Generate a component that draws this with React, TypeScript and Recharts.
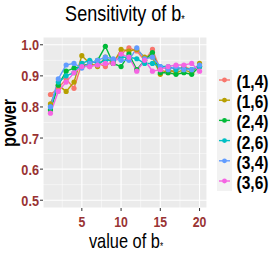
import { LineChart, Line, XAxis, YAxis, CartesianGrid, ReferenceLine } from "recharts";

const bValues = [1,2,3,4,5,6,7,8,9,10,11,12,13,14,15,16,17,18,19,20];
const s14 = [0.84,0.86,0.89,0.86,0.94,0.93,0.94,0.93,0.95,0.97,0.99,0.98,0.95,0.985,0.92,0.91,0.92,0.93,0.92,0.93];
const s16 = [0.81,0.87,0.85,0.88,0.965,0.94,0.93,0.96,0.94,0.985,0.98,0.985,0.96,0.96,0.905,0.92,0.91,0.92,0.91,0.94];
const s24 = [0.79,0.87,0.915,0.925,0.93,0.94,0.95,0.995,0.94,0.93,0.97,0.92,0.95,0.975,0.91,0.91,0.905,0.91,0.905,0.93];
const s26 = [0.80,0.88,0.90,0.91,0.94,0.95,0.94,0.95,0.95,0.96,0.96,0.955,0.94,0.94,0.93,0.93,0.92,0.925,0.92,0.93];
const s34 = [0.80,0.89,0.935,0.94,0.925,0.94,0.95,0.96,0.955,0.95,0.95,0.99,0.955,0.96,0.93,0.92,0.93,0.92,0.92,0.935];
const s36 = [0.78,0.85,0.88,0.91,0.93,0.93,0.935,0.94,0.94,0.97,0.96,0.915,0.95,0.915,0.92,0.93,0.935,0.935,0.94,0.915];

const seriesNames = ["(1,4)","(1,6)","(2,4)","(2,6)","(3,4)","(3,6)"];
const seriesVals = [s14,s16,s24,s26,s34,s36];
const colors = ["#F8766D","#B79F00","#00BA38","#00BFC4","#619CFF","#F564E3"];

const xTicks = [5,10,15,20];
const yTicks = [0.5,0.6,0.7,0.8,0.9,1.0];
const xMinor = [2.5,7.5,12.5,17.5];
const yMinor = [0.55,0.65,0.75,0.85,0.95];

const rows = bValues.map((b,i)=>{
  const r: any = { b };
  seriesNames.forEach((n,k)=>{ r[n]=seriesVals[k][i]; });
  return r;
});

const font = '"Liberation Sans", Arial, sans-serif';
const SX = 0.82; // the reference text is a narrow face

const YTick = (p: any) => (
  <g transform={`translate(${p.x},${p.y}) scale(${SX},1)`}>
    <text textAnchor="end" dominantBaseline="central" fill="#993333" fontWeight={700} fontSize={15.5} fontFamily={font}>
      {Number(p.payload.value).toFixed(1)}
    </text>
  </g>
);
const XTick = (p: any) => (
  <g transform={`translate(${p.x},${p.y}) scale(${SX},1)`}>
    <text textAnchor="middle" dy="0.71em" fill="#993333" fontWeight={700} fontSize={15} fontFamily={font}>
      {p.payload.value}
    </text>
  </g>
);

export default function App(){
  return (
    <div style={{position:"absolute",left:0,top:0,width:278,height:262,background:"#fff"}}>
      <LineChart width={278} height={262} data={rows} margin={{top:37,right:71,bottom:0,left:0}}>
        <CartesianGrid fill="#EBEBEB" stroke="#FFFFFF" strokeWidth={1.1}/>
        {xMinor.map(v=><ReferenceLine key={"x"+v} x={v} stroke="#FFFFFF" strokeWidth={0.5}/>)}
        {yMinor.map(v=><ReferenceLine key={"y"+v} y={v} stroke="#FFFFFF" strokeWidth={0.5}/>)}
        <XAxis dataKey="b" type="number" domain={[0.05,20.95]} ticks={xTicks} height={54}
          axisLine={false} tickSize={3} tickMargin={5} tickLine={{stroke:"#333"}} tick={<XTick/>}/>
        <YAxis type="number" domain={[0.475,1.025]} ticks={yTicks} width={43}
          axisLine={false} tickSize={3} tickMargin={1} tickLine={{stroke:"#333"}} tick={<YTick/>}/>
        {seriesNames.map((n,k)=>(
          <Line key={n} dataKey={n} stroke={colors[k]} strokeWidth={1.4}
            dot={{r:2.6,fill:colors[k],stroke:colors[k],strokeWidth:0}} isAnimationActive={false}/>
        ))}
      </LineChart>
      <svg width={278} height={262} style={{position:"absolute",left:0,top:0,pointerEvents:"none"}} fontFamily={font}>
        <text transform={`translate(125,21) scale(${SX},1)`} textAnchor="middle" fontSize={22} fill="#000">
          Sensitivity of b<tspan fontSize={11} dy={2}>*</tspan>
        </text>
        <text transform={`translate(126,248) scale(${SX},1)`} textAnchor="middle" fontSize={20} fill="#000">
          value of b<tspan fontSize={10} dy={2}>*</tspan>
        </text>
        <text transform={`translate(15.5,123) rotate(-90) scale(${SX},1)`} textAnchor="middle" fontSize={20} fontWeight={700} fill="#000">power</text>
        <rect x={217} y={70} width={15} height={121} fill="#F2F2F2"/>
        {seriesNames.map((n,k)=>{
          const cy = 80 + k*20.2;
          return (
            <g key={n}>
              <line x1={219} x2={230} y1={cy} y2={cy} stroke={colors[k]} strokeWidth={1.4}/>
              <circle cx={224.5} cy={cy} r={2.4} fill={colors[k]}/>
              <text transform={`translate(236.5,${cy+1.5}) scale(${SX},1)`} dominantBaseline="central" fontSize={19} fontWeight={700} fill="#000">{n}</text>
            </g>
          );
        })}
      </svg>
    </div>
  );
}
